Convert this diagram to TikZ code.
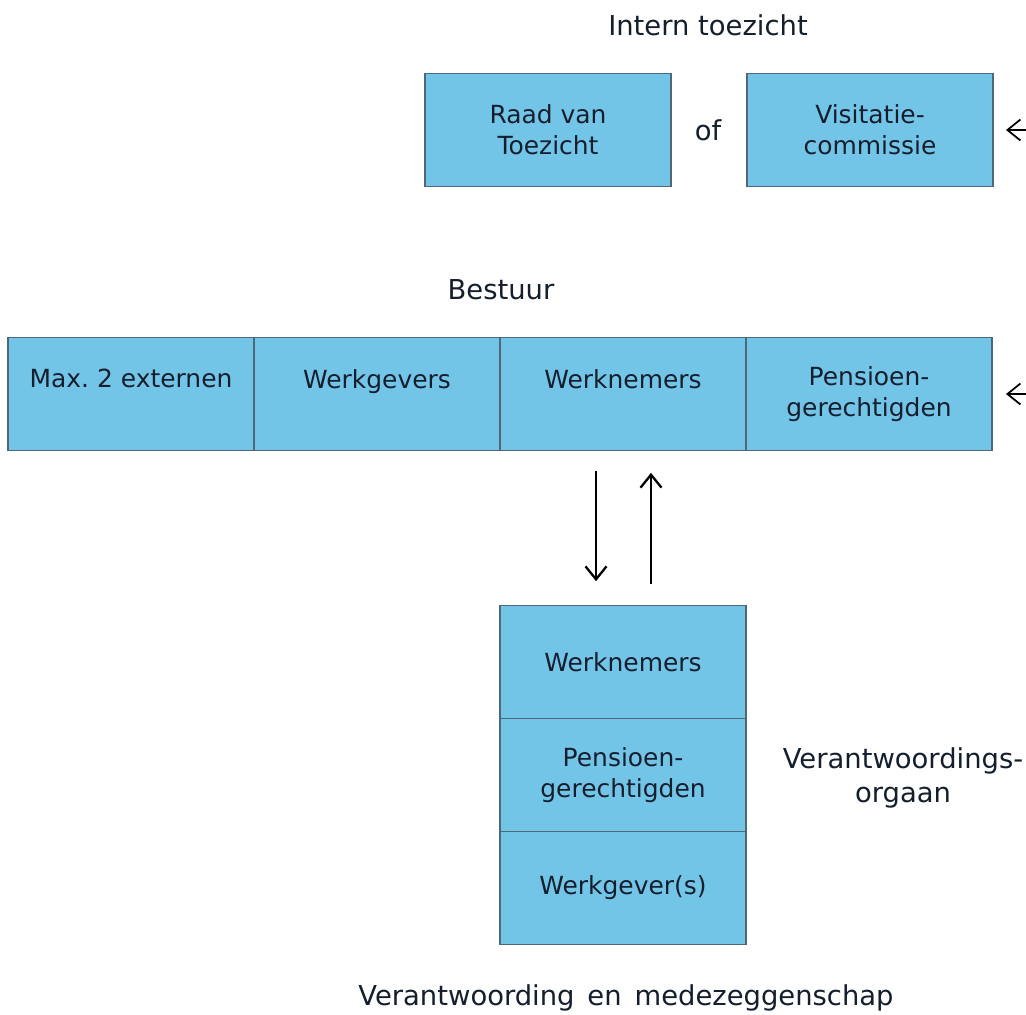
\documentclass[tikz,border=0pt]{standalone}
\usepackage{fontspec}
\setmainfont{DejaVu Sans}
\usepackage{xcolor}
\usetikzlibrary{arrows.meta, positioning}

\definecolor{boxblue}{RGB}{115,197,232}
\definecolor{boxline}{RGB}{78,104,122}
\definecolor{txt}{RGB}{20,30,45}

\begin{document}
\frenchspacing
\begin{tikzpicture}[x=0.02cm, y=-0.02cm,
        every node/.style={font=\fontsize{15.6}{19}\selectfont, text=txt, align=center},
        blok/.style={rectangle, draw=boxline, line width=0.7pt, fill=boxblue,
            minimum width=4.92cm, minimum height=2.25cm, inner sep=0pt,
            font=\fontsize{14.2}{17.6}\selectfont},
        pijl/.style={line width=1.3pt, -{Straight Barb[length=2.6mm, width=4.2mm]}}]
        \useasboundingbox (0,0) rectangle (1026,1014);

        % intern toezicht
        \node (intern) at (708,25) {Intern toezicht};
        \node[blok] (rvt) at (548,130) {Raad van\\Toezicht};
        \node (of) at (708,130) {of};
        \node[blok] (visit) at (870,130) {Visitatie-\\commissie};

        % bestuur
        \node (bestuur) at (501,290) {Bestuur};
        \node[blok] (bext) at (131,394) {Max. 2 externen\\ \mbox{}};
        \node[blok] (bwg) at (377,394) {Werkgevers\\ \mbox{}};
        \node[blok] (bwn) at (623,394) {Werknemers\\ \mbox{}};
        \node[blok] (bpg) at (869,394) {Pensioen-\\gerechtigden};

        % verantwoordingsorgaan
        \node[blok] (vwn) at (623,662) {Werknemers};
        \node[blok] (vpg) at (623,775) {Pensioen-\\gerechtigden};
        \node[blok] (vwg) at (623,888) {Werkgever(s)};
        \node (vo) at (903,778) {Verantwoordings-\\orgaan};
        \node (vm) at (626,998) {\spaceskip=0.47em\relax Verantwoording en medezeggenschap};

        \draw[pijl, shorten <=0.4cm, shorten >=0.48cm]
            ([xshift=-0.54cm]bwn.south) to ([xshift=-0.54cm]vwn.north);
        \draw[pijl, shorten <=0.42cm, shorten >=0.44cm]
            ([xshift=0.56cm]vwn.north) to ([xshift=0.56cm]bwn.south);

        % pijlen vanaf de rand
        \coordinate (r1) at (1030,130);
        \coordinate (e1) at (1006,130);
        \coordinate (r2) at (1030,394);
        \coordinate (e2) at (1006,394);
        \draw[pijl, line width=1pt] (r1) to (e1);
        \draw[pijl, line width=1pt] (r2) to (e2);
\end{tikzpicture}
\end{document}
